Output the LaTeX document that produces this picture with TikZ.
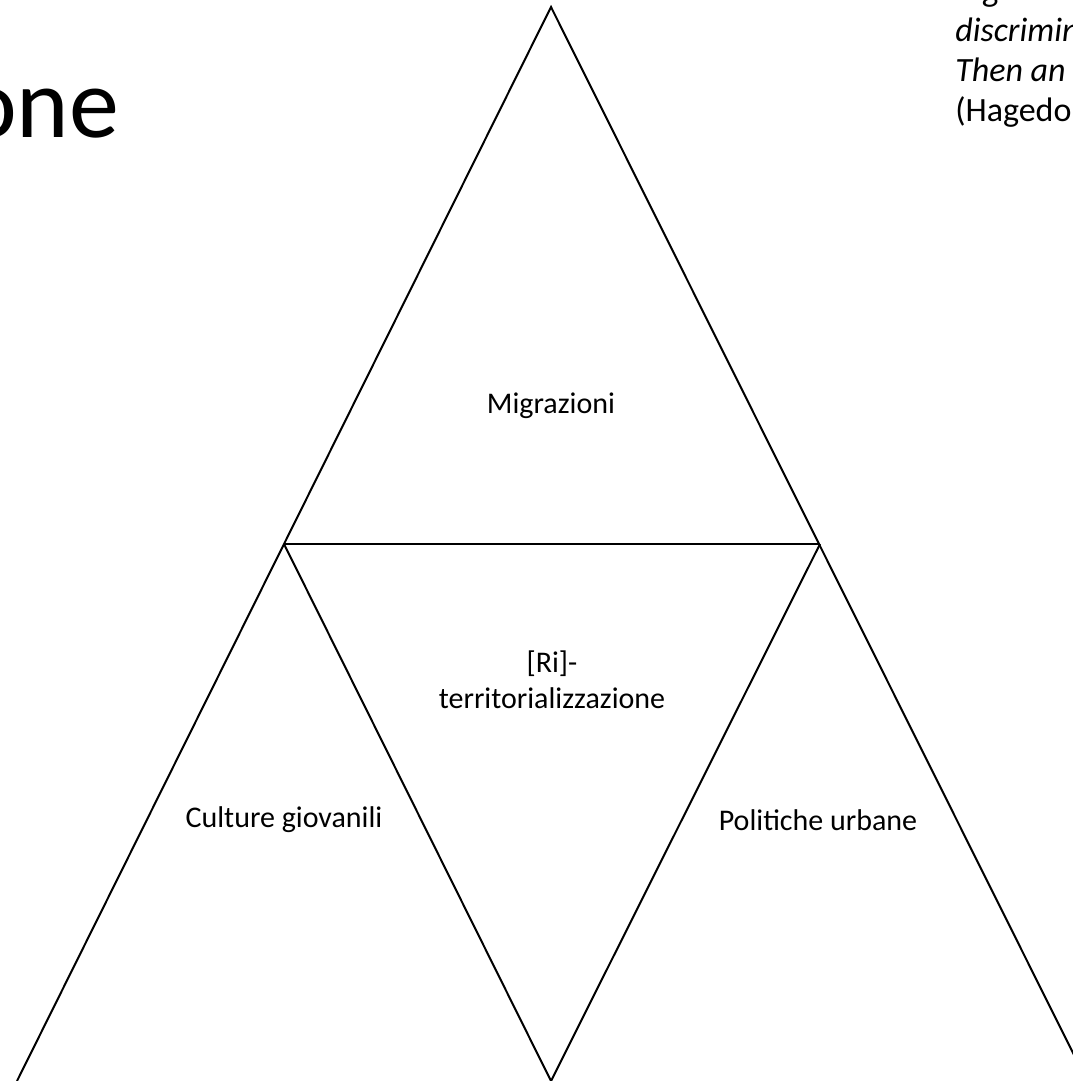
\documentclass[tikz,border=0pt]{standalone}
\usepackage{fontspec}
\setmainfont{Carlito}
\begin{document}
\begin{tikzpicture}[x=0.75pt,y=-0.75pt,
  edge/.style={line width=1.5pt, line join=miter, line cap=butt},
  lbl/.style={font=\fontsize{22.5}{27}\selectfont, align=center, inner sep=0pt},
  quote/.style={font=\fontsize{25.5}{30}\selectfont\itshape, anchor=base west, inner sep=0pt},
  title/.style={font=\fontsize{75}{80}\selectfont, anchor=base west, inner sep=0pt}]
\useasboundingbox (0,0) rectangle (1072,1081);
\coordinate (A) at (551,7);
\coordinate (L) at (284,544);
\coordinate (R) at (820,544);
\coordinate (BL) at (17,1081);
\coordinate (BM) at (551,1081);
\coordinate (BR) at (1087,1081);
\draw[edge] (BL) -- (A) -- (BR);
\draw[edge] (L) -- (R);
\draw[edge] (L) -- (BM) -- (R);
\node[lbl] (mig) at (551,406) {Migrazioni};
\node[lbl] (ri) at (552,680) {[Ri]-\\territorializzazione};
\node[lbl] (cul) at (284,820) {Culture giovanili};
\node[lbl] (pol) at (818,820) {Politiche urbane};
\node[title] (tit) at (-36,137) {one};
\node[quote] (q0) at (983,2) {g};
\node[quote] (q1) at (955,42) {discrimin};
\node[quote] (q2) at (955,82) {Then an};
\node[quote, font=\fontsize{25.5}{30}\selectfont] (q3) at (955,122) {(Hagedo};
\end{tikzpicture}
\end{document}
